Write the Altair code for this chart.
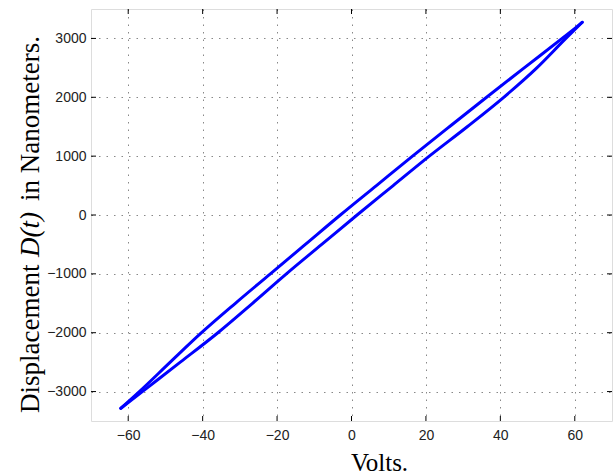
import altair as alt
import pandas as pd

# Hysteresis loop (volts, nanometers)
# rising branch (left line) and falling branch (right line)
up_volts = [-62.0, -57.0, -48.7, -40.3, -31.2, -21.8, -12.4, -3.0, 6.7, 16.4, 26.3, 36.3, 46.4, 56.6, 59.6, 62.0]
up_disp = [-3285, -3000, -2500, -2000, -1500, -1000, -500, 0, 500, 1000, 1500, 2000, 2500, 3000, 3150, 3275]
down_volts = [62.0, 57.6, 49.8, 40.9, 31.1, 20.9, 11.2, 1.5, -8.0, -17.5, -26.6, -35.9, -46.0, -56.2, -62.0]
down_disp = [3275, 3000, 2500, 2000, 1500, 1000, 500, 0, -500, -1000, -1500, -2000, -2500, -3000, -3285]

x_ticks = [-60, -40, -20, 0, 20, 40, 60]
y_ticks = [-3000, -2000, -1000, 0, 1000, 2000, 3000]

W, H = 521, 412

df = pd.DataFrame({
    "volts": up_volts + down_volts,
    "disp": up_disp + down_disp,
    "branch": ["up"] * len(up_volts) + ["down"] * len(down_volts),
})
xt = pd.DataFrame({"v": x_ticks})
yt = pd.DataFrame({"d": y_ticks})

xscale = alt.Scale(domain=[-70, 70], nice=False, zero=False)
yscale = alt.Scale(domain=[-3500, 3500], nice=False, zero=False)

grid_common = dict(grid=True, gridColor="#888888", gridDash=[1.5, 6], gridWidth=1,
                   ticks=False, domain=False, labelFont="Liberation Sans", labelFontSize=14,
                   labelColor="#222222", format="d")

line = alt.Chart(df).mark_line(color="#0000ff", strokeWidth=3, strokeJoin="round", strokeCap="round",
                               interpolate="monotone").encode(
    x=alt.X("volts:Q", scale=xscale,
            axis=alt.Axis(values=x_ticks, labelPadding=7, title="Volts.", titleFont="Liberation Serif",
                          titleFontSize=25, titleFontWeight="normal", titleColor="#000000", titlePadding=8,
                          titleX=288, titleAlign="center",
                          **grid_common)),
    y=alt.Y("disp:Q", scale=yscale,
            axis=alt.Axis(values=y_ticks, labelPadding=5, title=None, **grid_common)),
    detail="branch:N",
)

tick_len = 5
bottom_ticks = alt.Chart(xt).mark_rule(color="#000000", strokeWidth=1).encode(
    x=alt.X("v:Q", scale=xscale), y=alt.value(H), y2=alt.value(H - tick_len))
top_ticks = alt.Chart(xt).mark_rule(color="#000000", strokeWidth=1).encode(
    x=alt.X("v:Q", scale=xscale), y=alt.value(0), y2=alt.value(tick_len))
left_ticks = alt.Chart(yt).mark_rule(color="#000000", strokeWidth=1).encode(
    y=alt.Y("d:Q", scale=yscale), x=alt.value(0), x2=alt.value(tick_len))
right_ticks = alt.Chart(yt).mark_rule(color="#000000", strokeWidth=1).encode(
    y=alt.Y("d:Q", scale=yscale), x=alt.value(W), x2=alt.value(W - tick_len))

one = alt.Data(values=[{}])
title_x = -52
t1 = alt.Chart(one).mark_text(text="Displacement", angle=270, align="left", baseline="alphabetic",
                              font="Liberation Serif", fontSize=27, color="#000000").encode(
    x=alt.value(title_x), y=alt.value(404))
t2 = alt.Chart(one).mark_text(text="D(t)", angle=270, align="left", baseline="alphabetic",
                              font="Liberation Serif", fontSize=27, fontStyle="italic", color="#000000").encode(
    x=alt.value(title_x), y=alt.value(248))
t3 = alt.Chart(one).mark_text(text="in Nanometers.", angle=270, align="left", baseline="alphabetic",
                              font="Liberation Serif", fontSize=27, color="#000000").encode(
    x=alt.value(title_x), y=alt.value(192))

chart = alt.layer(line, bottom_ticks, top_ticks, left_ticks, right_ticks, t1, t2, t3).properties(
    width=W, height=H,
    autosize=alt.AutoSizeParams(type="none"),
    padding={"left": 91, "top": 9, "right": 3, "bottom": 53},
).configure_view(stroke="#000000", strokeWidth=1.2).configure(background="#ffffff")

chart.save("out.html", embed_options={"renderer": "svg", "actions": False})
